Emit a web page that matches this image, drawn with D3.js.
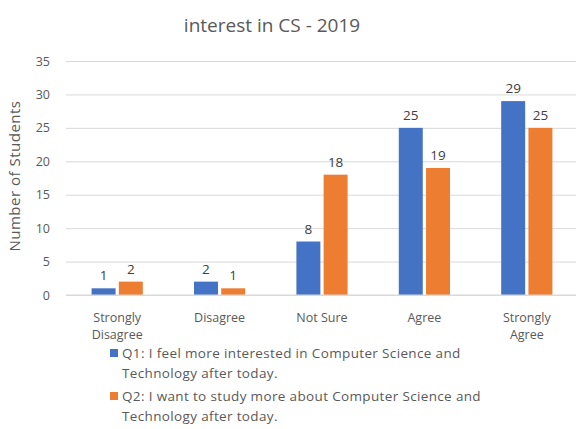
<!DOCTYPE html>
<html>
<head>
<meta charset="utf-8">
<script src="https://cdn.jsdelivr.net/npm/d3@7"></script>
<style>
  body { margin: 0; background: #fff; }
  svg { font-family: "Open Sans", sans-serif; }
</style>
</head>
<body>
<div id="chart"></div>
<script>
// Data
const categories = ["Strongly Disagree", "Disagree", "Not Sure", "Agree", "Strongly Agree"];
const q1Values = [1, 2, 8, 25, 29];
const q2Values = [2, 1, 18, 19, 25];
const yTicks = [0, 5, 10, 15, 20, 25, 30, 35];
const seriesNames = ["Q1", "Q2"];
const legendLabels = [
    ["Q1:  I feel more interested in Computer Science and", "Technology after today."],
    ["Q2:  I want to study more about Computer Science and", "Technology after today."]
];
const colors = ["#4472C4", "#ED7D31"];

const W = 576, H = 429;
const margin = { top: 61, right: 0, bottom: 134, left: 66 };
const plotW = 512, plotH = H - margin.top - margin.bottom;

const svg = d3.select("#chart").append("svg")
    .attr("width", W)
    .attr("height", H);

// Title
svg.append("text")
    .attr("x", 272)
    .attr("y", 32)
    .attr("text-anchor", "middle")
    .attr("fill", "#595959")
    .style("font-size", "19px")
    .text("interest in CS - 2019");

const g = svg.append("g").attr("transform", `translate(${margin.left},${margin.top})`);

const x = d3.scaleBand().domain(categories).range([0, plotW]).paddingInner(0.5).paddingOuter(0.25);
const xs = d3.scaleBand().domain(seriesNames).range([0, x.bandwidth()]).paddingInner(0.12);
const y = d3.scaleLinear().domain([0, 35]).range([plotH, 0]);

// Gridlines + y axis labels
const yAxis = g.append("g")
    .call(d3.axisLeft(y).tickValues(yTicks).tickSize(-plotW).tickPadding(16));
yAxis.select(".domain").remove();
yAxis.selectAll(".tick line").attr("stroke", "#d9d9d9");
yAxis.selectAll(".tick text")
    .attr("fill", "#595959")
    .style("font-size", "12.5px")
    .style("font-family", "'Open Sans', sans-serif");

// Y axis title
svg.append("text")
    .attr("transform", `translate(20,${margin.top + plotH / 2 - 2}) rotate(-90)`)
    .attr("text-anchor", "middle")
    .attr("fill", "#595959")
    .style("font-size", "15px")
    .style("letter-spacing", "0.5px")
    .text("Number of Students");

// Bars
const rows = categories.map((c, i) => ({ cat: c, vals: [q1Values[i], q2Values[i]] }));
const groups = g.selectAll(".grp").data(rows).enter()
    .append("g")
    .attr("class", "grp")
    .attr("transform", d => `translate(${x(d.cat)},0)`);

groups.selectAll("rect")
    .data(d => d.vals.map((v, k) => ({ s: seriesNames[k], v: v, k: k })))
    .enter().append("rect")
    .attr("x", d => xs(d.s))
    .attr("y", d => y(d.v))
    .attr("width", xs.bandwidth())
    .attr("height", d => plotH - y(d.v))
    .attr("fill", d => colors[d.k]);

groups.selectAll(".val")
    .data(d => d.vals.map((v, k) => ({ s: seriesNames[k], v: v })))
    .enter().append("text")
    .attr("class", "val")
    .attr("x", d => xs(d.s) + xs.bandwidth() / 2)
    .attr("y", d => y(d.v) - 8)
    .attr("text-anchor", "middle")
    .attr("fill", "#404040")
    .style("font-size", "13.5px")
    .text(d => d.v);

// Baseline
g.append("line")
    .attr("x1", 0).attr("x2", plotW)
    .attr("y1", plotH).attr("y2", plotH)
    .attr("stroke", "#d9d9d9");

// Category labels (wrapped)
const wrapped = {
    "Strongly Disagree": ["Strongly", "Disagree"],
    "Strongly Agree": ["Strongly", "Agree"]
};
categories.forEach(c => {
    const lines = wrapped[c] || [c];
    lines.forEach((l, i) => {
        g.append("text")
            .attr("x", x(c) + x.bandwidth() / 2)
            .attr("y", plotH + 27 + i * 16.5)
            .attr("text-anchor", "middle")
            .attr("fill", "#595959")
            .style("font-size", "12.5px")
            .text(l);
    });
});

// Legend
const legend = svg.append("g").attr("transform", "translate(110,358)");
legendLabels.forEach((lines, i) => {
    const row = legend.append("g").attr("transform", `translate(0,${i * 43})`);
    row.append("rect")
        .attr("x", 0).attr("y", -9)
        .attr("width", 8).attr("height", 8)
        .attr("fill", colors[i]);
    lines.forEach((l, j) => {
        row.append("text")
            .attr("x", 12)
            .attr("y", j * 20)
            .attr("fill", "#595959")
            .style("font-size", "13.5px")
            .style("letter-spacing", "0.35px")
            .text(l);
    });
});
</script>
</body>
</html>
